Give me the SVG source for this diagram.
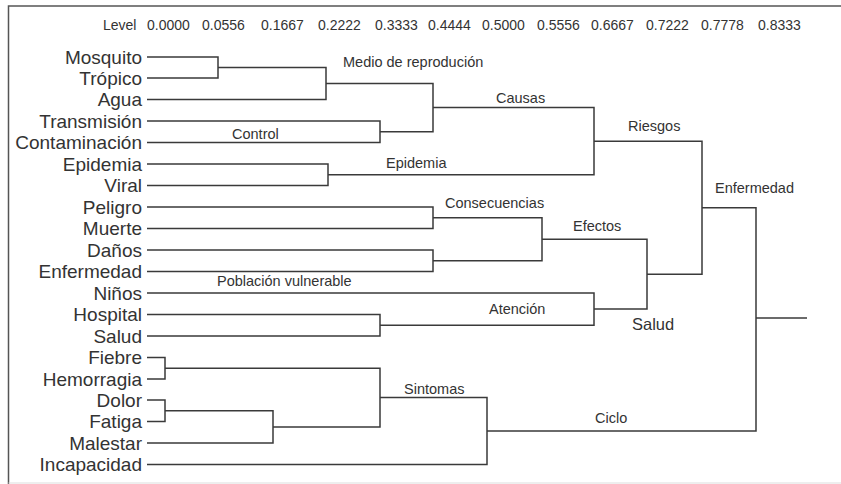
<svg xmlns="http://www.w3.org/2000/svg" width="841" height="484" viewBox="0 0 841 484">
  <style>
    .frame { fill: none; stroke: #555; stroke-width: 1.5; }
    .frame-bottom { stroke: #ddd; stroke-width: 1.2; }
    .head { font-family: "Liberation Sans", Arial, sans-serif; font-size: 14px; fill: #333; }
    .leaf { font-family: "Liberation Sans", Arial, sans-serif; font-size: 19px; fill: #333; text-anchor: end; }
    .lbl { font-family: "Liberation Sans", Arial, sans-serif; font-size: 14.5px; fill: #333; }
    .big { font-size: 16.5px; }
    .edges path { fill: none; stroke: #3a3a3a; stroke-width: 1.5; }
  </style>
  <rect width="841" height="484" fill="#fff"/>

  <!-- frame -->
  <path class="frame" d="M8.5,484 V6 H841"/>
  <path class="frame-bottom" d="M8.5,483 H841"/>

  <!-- level scale -->
  <g id="scale" class="head">
    <text x="103" y="30">Level</text>
    <text x="147" y="30">0.0000</text>
    <text x="202" y="30">0.0556</text>
    <text x="261" y="30">0.1667</text>
    <text x="318" y="30">0.2222</text>
    <text x="375" y="30">0.3333</text>
    <text x="428" y="30">0.4444</text>
    <text x="482" y="30">0.5000</text>
    <text x="537" y="30">0.5556</text>
    <text x="591" y="30">0.6667</text>
    <text x="646" y="30">0.7222</text>
    <text x="701" y="30">0.7778</text>
    <text x="758" y="30">0.8333</text>
  </g>

  <!-- leaves -->
  <g id="leaf-mosquito"><text class="leaf" x="142" y="63.5">Mosquito</text></g>
  <g id="leaf-tropico"><text class="leaf" x="142" y="85">Trópico</text></g>
  <g id="leaf-agua"><text class="leaf" x="142" y="106">Agua</text></g>
  <g id="leaf-transmision"><text class="leaf" x="142" y="127.5">Transmisión</text></g>
  <g id="leaf-contaminacion"><text class="leaf" x="142" y="149">Contaminación</text></g>
  <g id="leaf-epidemia"><text class="leaf" x="142" y="170.5">Epidemia</text></g>
  <g id="leaf-viral"><text class="leaf" x="142" y="192">Viral</text></g>
  <g id="leaf-peligro"><text class="leaf" x="142" y="213.5">Peligro</text></g>
  <g id="leaf-muerte"><text class="leaf" x="142" y="235">Muerte</text></g>
  <g id="leaf-danos"><text class="leaf" x="142" y="256.5">Daños</text></g>
  <g id="leaf-enfermedad"><text class="leaf" x="142" y="278">Enfermedad</text></g>
  <g id="leaf-ninos"><text class="leaf" x="142" y="299.5">Niños</text></g>
  <g id="leaf-hospital"><text class="leaf" x="142" y="321">Hospital</text></g>
  <g id="leaf-salud"><text class="leaf" x="142" y="342.5">Salud</text></g>
  <g id="leaf-fiebre"><text class="leaf" x="142" y="364">Fiebre</text></g>
  <g id="leaf-hemorragia"><text class="leaf" x="142" y="385.5">Hemorragia</text></g>
  <g id="leaf-dolor"><text class="leaf" x="142" y="406.5">Dolor</text></g>
  <g id="leaf-fatiga"><text class="leaf" x="142" y="428">Fatiga</text></g>
  <g id="leaf-malestar"><text class="leaf" x="142" y="449.5">Malestar</text></g>
  <g id="leaf-incapacidad"><text class="leaf" x="142" y="471">Incapacidad</text></g>

  <!-- dendrogram branches -->
  <g id="connectors" class="edges">
    <!-- Medio de reproducion -->
    <path d="M147,57 H218 V78 H147"/>
    <path d="M218,67.5 H326 V99.5 H147"/>
    <!-- Control -->
    <path d="M147,121 H380 V142.5 H147"/>
    <!-- Causas -->
    <path d="M326,83.5 H433 V131.75 H380"/>
    <!-- Epidemia -->
    <path d="M147,164 H328 V185.5 H147"/>
    <!-- Riesgos -->
    <path d="M433,107.6 H594 V174.75 H328"/>
    <!-- Consecuencias -->
    <path d="M147,207 H433 V228.5 H147"/>
    <path d="M147,250 H433 V271.5 H147"/>
    <path d="M433,217.75 H542 V260.75 H433"/>
    <!-- Atencion -->
    <path d="M147,314.5 H380 V336 H147"/>
    <path d="M147,293 H594 V325.25 H380"/>
    <!-- Efectos / Salud -->
    <path d="M542,239.25 H647 V309.1 H594"/>
    <!-- Enfermedad -->
    <path d="M594,141.2 H702 V274.2 H647"/>
    <!-- Sintomas -->
    <path d="M147,357.5 H165 V379 H147"/>
    <path d="M147,400 H165 V421.5 H147"/>
    <path d="M165,410.75 H273 V443 H147"/>
    <path d="M165,368.25 H380 V426.9 H273"/>
    <path d="M380,397.6 H487 V464.5 H147"/>
    <!-- Ciclo and root -->
    <path d="M702,207.7 H756 V431 H487"/>
    <path d="M756,318 H807"/>
  </g>

  <!-- cluster labels -->
  <g id="cl-medio"><text class="lbl" x="343" y="67">Medio de reprodución</text></g>
  <g id="cl-causas"><text class="lbl" x="496" y="103">Causas</text></g>
  <g id="cl-control"><text class="lbl" x="232" y="138.5">Control</text></g>
  <g id="cl-epidemia"><text class="lbl" x="386" y="167.5">Epidemia</text></g>
  <g id="cl-riesgos"><text class="lbl" x="628" y="130.5">Riesgos</text></g>
  <g id="cl-enfermedad"><text class="lbl" x="715" y="192.5">Enfermedad</text></g>
  <g id="cl-consecuencias"><text class="lbl" x="445" y="207.5">Consecuencias</text></g>
  <g id="cl-efectos"><text class="lbl" x="573" y="230.5">Efectos</text></g>
  <g id="cl-poblacion"><text class="lbl" x="217" y="285.5">Población vulnerable</text></g>
  <g id="cl-atencion"><text class="lbl" x="489" y="314">Atención</text></g>
  <g id="cl-salud"><text class="lbl big" x="632" y="330">Salud</text></g>
  <g id="cl-sintomas"><text class="lbl" x="404" y="393.5">Sintomas</text></g>
  <g id="cl-ciclo"><text class="lbl" x="595" y="422.5">Ciclo</text></g>
</svg>
